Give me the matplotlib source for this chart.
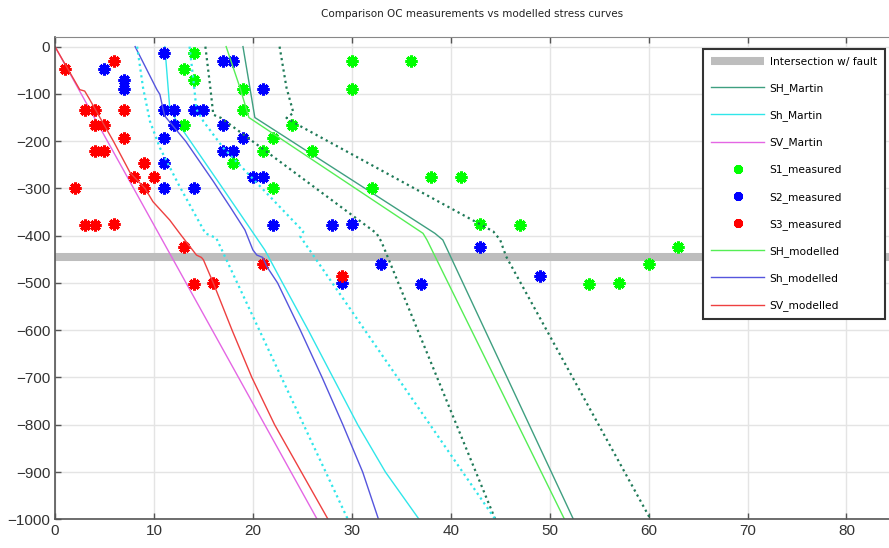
import matplotlib

matplotlib.use("Agg")

import matplotlib.pyplot as plt


# DATOS

# Curvas de esfuerzo: pares (esfuerzo, profundidad)

SV_MARTIN_X = [0, 26.5]
SV_MARTIN_Y = [0, -1000]

SH_MARTIN_X = [19.0, 19.7, 20.2, 38.4, 39.2, 52.4]
SH_MARTIN_Y = [0, -87, -150, -395, -409, -1000]

SH_MARTIN_LOW_X = [15.2, 15.7, 16.0, 16.8, 32.5, 33.0, 44.5]
SH_MARTIN_LOW_Y = [0, -87, -144, -151, -395, -413, -1000]

SH_MARTIN_HIGH_X = [22.7, 23.4, 24.1, 23.4, 24.6, 44.3, 45.0, 45.6, 60.2]
SH_MARTIN_HIGH_Y = [0, -87, -140, -151, -166, -391, -409, -444, -1000]

SHMIN_MARTIN_X = [11.1, 11.6, 12.3, 16.7, 21.2, 23.0, 25.6, 28.1,
                  30.6, 33.4, 36.8]
SHMIN_MARTIN_Y = [0, -130, -158, -292, -430, -500, -600, -700,
                  -800, -900, -1000]

SHMIN_MARTIN_LOW_X = [8.3, 8.9, 9.6, 10.6, 12.5, 15.2, 16.3, 29.6]
SHMIN_MARTIN_LOW_Y = [0, -87, -158, -214, -292, -395, -405, -1000]

SHMIN_MARTIN_HIGH_X = [13.6, 14.0, 14.3, 15.0, 17.0, 25.1, 24.8, 44.5]
SHMIN_MARTIN_HIGH_Y = [0, -73, -133, -158, -214, -391, -402, -1000]

SH_MOD_X = [17.3, 18.7, 19.6, 37.2, 37.6, 51.5]
SH_MOD_Y = [0, -87, -150, -395, -409, -1000]

SHMIN_MOD_X = [8.1, 10.3, 10.6, 10.9, 11.1, 13.2, 16.0, 17.7, 19.2,
               20.0, 20.4, 21.0, 21.4, 22.5, 24.8, 27.0, 29.1, 31.1, 32.7]
SHMIN_MOD_Y = [0, -91, -101, -130, -147, -200, -285, -339, -388,
               -430, -441, -446, -465, -500, -600, -700, -800, -900, -1000]

SV_MOD_X = [0, 2.5, 3.0, 3.4, 5.9, 7.6, 9.1, 9.9, 11.6, 12.6, 14.3,
            14.8, 15.0, 16.0, 17.9, 19.9, 22.2, 24.9, 27.6]
SV_MOD_Y = [0, -91, -94, -108, -200, -267, -300, -328, -367, -395, -441,
            -446, -451, -500, -600, -700, -800, -900, -1000]

# Mediciones

S1_X = [14, 30, 36, 13, 14, 19, 30, 19, 13, 24, 22, 26, 21, 18, 38, 41,
        32, 22, 43, 47, 63, 60, 54, 57]
S1_Y = [-13, -30, -30, -48, -70, -90, -90, -134, -166, -166, -194, -220,
        -220, -247, -275, -275, -300, -300, -375, -378, -423, -460,
        -502, -501]

S2_X = [11, 17, 18, 5, 7, 7, 21, 11, 12, 14, 15, 12, 17, 11, 19, 17,
        18, 11, 20, 21, 11, 14, 22, 28, 30, 43, 33, 49, 29, 37]
S2_Y = [-13, -30, -30, -48, -70, -90, -90, -134, -134, -134, -134, -166,
        -166, -194, -194, -220, -220, -247, -275, -275, -300, -300, -378,
        -378, -375, -423, -460, -485, -501, -502]

S3_X = [1, 6, 3, 4, 7, 4, 5, 7, 4, 5, 9, 8, 10, 2, 9, 3, 4, 6, 13, 21,
        29, 14, 16]
S3_Y = [-48, -30, -134, -134, -134, -166, -166, -194, -220, -220, -247,
        -275, -275, -300, -300, -378, -378, -375, -423, -460, -485,
        -502, -501]

FAULT_DEPTH = -445

X_TICKS = list(range(0, 90, 10))
Y_TICKS = list(range(-1000, 100, 100))


# ESTILO

COLOR_SH_MARTIN = "#3f9f80"
COLOR_SH_MARTIN_DOT = "#1f7a58"
COLOR_SHMIN_MARTIN = "#30e6ea"
COLOR_SV_MARTIN = "#e466e4"
COLOR_SH_MOD = "#55ee55"
COLOR_SHMIN_MOD = "#5555dd"
COLOR_SV_MOD = "#ee4040"

DOTTED = (0, (1, 1.6))
ASTERISCO = (8, 2, 0)

plt.rcParams["font.family"] = ["DejaVu Sans"]


# FIGURA

fig = plt.figure(figsize=(8.89, 5.48), dpi=100)

ax = fig.add_axes([
    55 / 889,
    1 - 519.3 / 548,
    834 / 889,
    482.6 / 548
])

ax.axhline(
    FAULT_DEPTH,
    color="#bdbdbd",
    linewidth=5.8,
    solid_capstyle="butt",
    zorder=1.5,
    label="Intersection w/ fault"
)

ax.plot(SH_MARTIN_X, SH_MARTIN_Y, color=COLOR_SH_MARTIN,
        linewidth=1.0, label="SH_Martin")
ax.plot(SHMIN_MARTIN_X, SHMIN_MARTIN_Y, color=COLOR_SHMIN_MARTIN,
        linewidth=1.0, label="Sh_Martin")
ax.plot(SV_MARTIN_X, SV_MARTIN_Y, color=COLOR_SV_MARTIN,
        linewidth=1.0, label="SV_Martin")

ax.plot(S1_X, S1_Y, linestyle="none", marker=ASTERISCO, markersize=8.5,
        markeredgewidth=2.2, color="#00ff00", label="S1_measured")
ax.plot(S2_X, S2_Y, linestyle="none", marker=ASTERISCO, markersize=8.5,
        markeredgewidth=2.2, color="#0000ff", label="S2_measured")
ax.plot(S3_X, S3_Y, linestyle="none", marker=ASTERISCO, markersize=8.5,
        markeredgewidth=2.2, color="#ff0000", label="S3_measured")

ax.plot(SH_MOD_X, SH_MOD_Y, color=COLOR_SH_MOD,
        linewidth=1.0, label="SH_modelled")
ax.plot(SHMIN_MOD_X, SHMIN_MOD_Y, color=COLOR_SHMIN_MOD,
        linewidth=1.0, label="Sh_modelled")
ax.plot(SV_MOD_X, SV_MOD_Y, color=COLOR_SV_MOD,
        linewidth=1.0, label="SV_modelled")

# Bandas de incertidumbre (punteadas)

ax.plot(SH_MARTIN_LOW_X, SH_MARTIN_LOW_Y, color=COLOR_SH_MARTIN_DOT,
        linewidth=1.6, linestyle=DOTTED)
ax.plot(SH_MARTIN_HIGH_X, SH_MARTIN_HIGH_Y, color=COLOR_SH_MARTIN_DOT,
        linewidth=1.6, linestyle=DOTTED)
ax.plot(SHMIN_MARTIN_LOW_X, SHMIN_MARTIN_LOW_Y, color=COLOR_SHMIN_MARTIN,
        linewidth=1.6, linestyle=DOTTED)
ax.plot(SHMIN_MARTIN_HIGH_X, SHMIN_MARTIN_HIGH_Y, color=COLOR_SHMIN_MARTIN,
        linewidth=1.6, linestyle=DOTTED)


# EJES

ax.set_xlim(0, 84.3)
ax.set_ylim(-1000, 21)

ax.set_xticks(X_TICKS)
ax.set_yticks(Y_TICKS)

ax.tick_params(
    axis="both",
    direction="in",
    length=4,
    width=1,
    color="#555555",
    labelsize=11,
    labelcolor="#333333",
    top=True,
    labeltop=False
)

for etiqueta in ax.get_xticklabels() + ax.get_yticklabels():
    etiqueta.set_family("Liberation Sans")

ax.grid(color="#e4e4e4", linewidth=1.0)
ax.set_axisbelow(True)

ax.spines["right"].set_visible(False)
ax.spines["left"].set_color("#555555")
ax.spines["bottom"].set_color("#555555")
ax.spines["top"].set_color("#888888")
ax.spines["left"].set_linewidth(1.2)
ax.spines["bottom"].set_linewidth(1.2)

ax.set_title(
    "Comparison OC measurements vs modelled stress curves",
    fontsize=7.5,
    color="#222222",
    pad=14
)

leyenda = ax.legend(
    loc="upper right",
    bbox_to_anchor=(0.995, 0.975),
    borderaxespad=0,
    fontsize=7.7,
    handlelength=5.0,
    handletextpad=0.5,
    labelspacing=1.52,
    numpoints=1,
    markerscale=0.75,
    fancybox=False,
    framealpha=1,
    edgecolor="#333333",
    borderpad=0.75
)
leyenda.get_frame().set_linewidth(1.5)

fig.savefig("out.png", dpi=100)
plt.close(fig)
